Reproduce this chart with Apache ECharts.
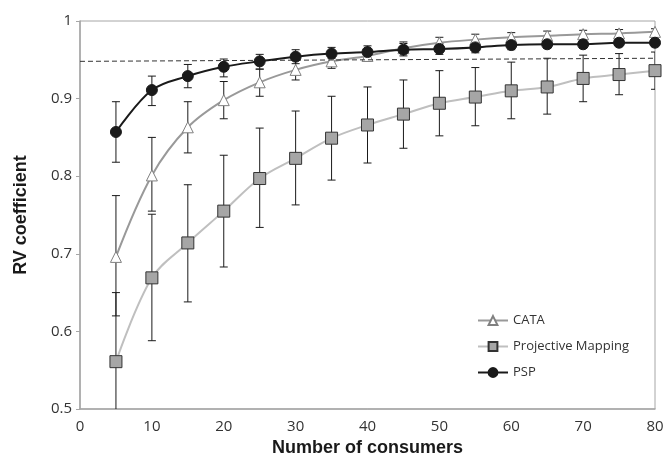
<!DOCTYPE html>
<html>
<head>
<meta charset="utf-8">
<script src="https://cdn.jsdelivr.net/npm/echarts@6/dist/echarts.min.js"></script>
<style>
  html, body { margin: 0; padding: 0; background: #fff; }
  #chart { width: 668px; height: 463px; }
</style>
</head>
<body>
<div id="chart"></div>
<script>
// consumers on the x axis
var consumers = [5, 10, 15, 20, 25, 30, 35, 40, 45, 50, 55, 60, 65, 70, 75, 80];

// RV coefficient means
var cataMean = [0.696, 0.801, 0.863, 0.898, 0.921, 0.937, 0.948, 0.955, 0.965, 0.972, 0.976, 0.979, 0.981, 0.983, 0.984, 0.986];
var pmMean   = [0.561, 0.669, 0.714, 0.755, 0.797, 0.823, 0.849, 0.866, 0.880, 0.894, 0.902, 0.910, 0.915, 0.926, 0.931, 0.936];
var pspMean  = [0.857, 0.911, 0.929, 0.941, 0.948, 0.954, 0.958, 0.960, 0.963, 0.964, 0.966, 0.969, 0.970, 0.970, 0.972, 0.972];

// error bar ends
var cataLow  = [0.620, 0.755, 0.830, 0.874, 0.903, 0.924, 0.939, 0.948, 0.958, 0.965, 0.970, 0.973, 0.975, 0.977, 0.978, 0.980];
var cataHigh = [0.775, 0.850, 0.896, 0.922, 0.938, 0.950, 0.958, 0.963, 0.973, 0.979, 0.983, 0.985, 0.987, 0.988, 0.989, 0.990];
var pmLow    = [0.470, 0.588, 0.638, 0.683, 0.734, 0.763, 0.795, 0.817, 0.836, 0.852, 0.865, 0.874, 0.880, 0.896, 0.905, 0.912];
var pmHigh   = [0.650, 0.751, 0.789, 0.827, 0.862, 0.884, 0.903, 0.915, 0.924, 0.936, 0.940, 0.947, 0.952, 0.956, 0.958, 0.960];
var pspLow   = [0.818, 0.891, 0.914, 0.928, 0.938, 0.945, 0.952, 0.952, 0.955, 0.957, 0.959, 0.963, 0.965, 0.965, 0.968, 0.967];
var pspHigh  = [0.896, 0.929, 0.944, 0.951, 0.957, 0.963, 0.966, 0.968, 0.971, 0.971, 0.972, 0.975, 0.975, 0.975, 0.977, 0.977];

// dashed reference line (from x=0 to x=80)
var refLine = [[0, 0.948], [80, 0.952]];

function pairs(xs, ys) {
  return xs.map(function (x, i) { return [x, ys[i]]; });
}
function errData(low, high) {
  return consumers.map(function (x, i) { return [x, low[i], high[i]]; });
}

function renderErr(params, api) {
  var x = api.value(0);
  var lo = api.coord([x, api.value(1)]);
  var hi = api.coord([x, api.value(2)]);
  var w = 4;
  var style = { stroke: '#1a1a1a', lineWidth: 1 };
  return {
    type: 'group',
    children: [
      { type: 'line', shape: { x1: lo[0], y1: lo[1], x2: hi[0], y2: hi[1] }, style: style },
      { type: 'line', shape: { x1: hi[0] - w, y1: hi[1], x2: hi[0] + w, y2: hi[1] }, style: style },
      { type: 'line', shape: { x1: lo[0] - w, y1: lo[1], x2: lo[0] + w, y2: lo[1] }, style: style }
    ]
  };
}

function errSeries(low, high) {
  return {
    type: 'custom',
    renderItem: renderErr,
    data: errData(low, high),
    encode: { x: 0, y: [1, 2] },
    clip: true,
    z: 1,
    silent: true
  };
}

var chart = echarts.init(document.getElementById('chart'));

var option = {
  animation: false,
  backgroundColor: '#fff',
  textStyle: { fontFamily: 'Open Sans' },
  grid: {
    left: 80, right: 13, top: 21, bottom: 54,
    show: true, borderColor: '#a6a6a6', borderWidth: 1
  },
  legend: {
    orient: 'vertical',
    left: 472, top: 309,
    itemWidth: 30, itemHeight: 11, itemGap: 13,
    data: ['CATA', 'Projective Mapping', 'PSP'],
    textStyle: { fontSize: 13, color: '#333', fontFamily: 'Open Sans' }
  },
  xAxis: {
    type: 'value', min: 0, max: 80, interval: 10,
    name: 'Number of consumers', nameLocation: 'middle', nameGap: 30,
    nameTextStyle: { fontFamily: 'Liberation Sans', fontWeight: 'bold', fontSize: 18, color: '#1a1a1a' },
    axisLine: { show: true, lineStyle: { color: '#a6a6a6', width: 1.5 } },
    axisTick: { show: false },
    splitLine: { show: false },
    axisLabel: { fontSize: 15, color: '#333', margin: 10 }
  },
  yAxis: {
    type: 'value', min: 0.5, max: 1, interval: 0.1,
    name: 'RV coefficient', nameLocation: 'middle', nameGap: 50,
    nameTextStyle: { fontFamily: 'Liberation Sans', fontWeight: 'bold', fontSize: 18, color: '#1a1a1a' },
    axisLine: { show: true, lineStyle: { color: '#a6a6a6', width: 1.5 } },
    axisTick: { show: true, length: 4, lineStyle: { color: '#a6a6a6' } },
    splitLine: { show: false },
    axisLabel: { fontSize: 15, color: '#333', margin: 8 }
  },
  series: [
    errSeries(pmLow, pmHigh),
    errSeries(cataLow, cataHigh),
    errSeries(pspLow, pspHigh),
    {
      name: 'Projective Mapping', type: 'line', smooth: 0.35, z: 3,
      data: pairs(consumers, pmMean),
      symbol: 'rect', symbolSize: 12,
      lineStyle: { color: '#bfbfbf', width: 2 },
      itemStyle: { color: '#a6a6a6', borderColor: '#333', borderWidth: 1 }
    },
    {
      name: 'CATA', type: 'line', smooth: 0.35, z: 4,
      data: pairs(consumers, cataMean),
      symbol: 'triangle', symbolSize: 11,
      lineStyle: { color: '#999', width: 2 },
      itemStyle: { color: '#fff', borderColor: '#808080', borderWidth: 1 },
      markLine: {
        silent: true, symbol: 'none', label: { show: false },
        lineStyle: { color: '#333', type: [5, 3], width: 1 },
        data: [[{ coord: refLine[0] }, { coord: refLine[1] }]]
      }
    },
    {
      name: 'PSP', type: 'line', smooth: 0.35, z: 5,
      data: pairs(consumers, pspMean),
      symbol: 'circle', symbolSize: 11,
      lineStyle: { color: '#1a1a1a', width: 2 },
      itemStyle: { color: '#1a1a1a', borderColor: '#1a1a1a', borderWidth: 1 }
    }
  ]
};

chart.setOption(option);
</script>
</body>
</html>
